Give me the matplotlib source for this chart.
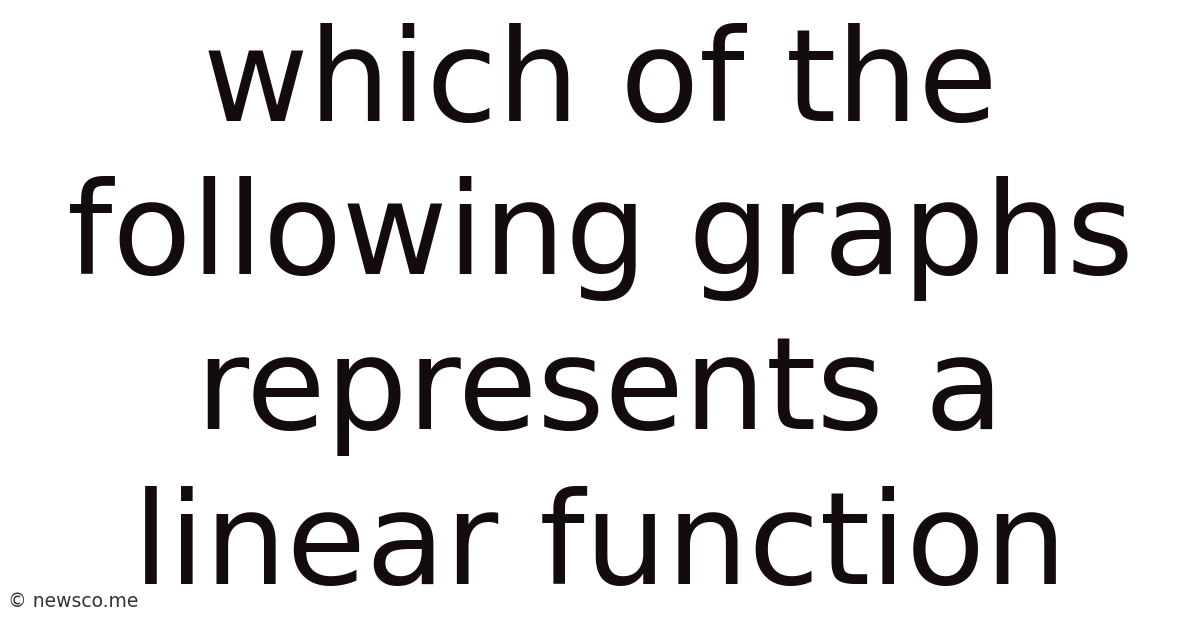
import matplotlib
matplotlib.use("Agg")
import matplotlib.pyplot as plt

title_lines = ["which of the", "following graphs", "represents a", "linear function"]
baselines_px = [121, 274, 429, 584]
watermark = "© newsco.me"

W, H = 1200, 628
fig = plt.figure(figsize=(W / 100, H / 100), dpi=100)
fig.patch.set_facecolor("white")

for line, yb in zip(title_lines, baselines_px):
    fig.text(0.5, 1 - yb / H, line, ha="center", va="baseline",
             fontsize=93, color="#140c0c", family="DejaVu Sans")

fig.text(8 / W, 1 - 607 / H, watermark, ha="left", va="baseline",
         fontsize=13.5, color="#333333", family="DejaVu Sans")

fig.savefig("out.png", dpi=100, facecolor="white")
